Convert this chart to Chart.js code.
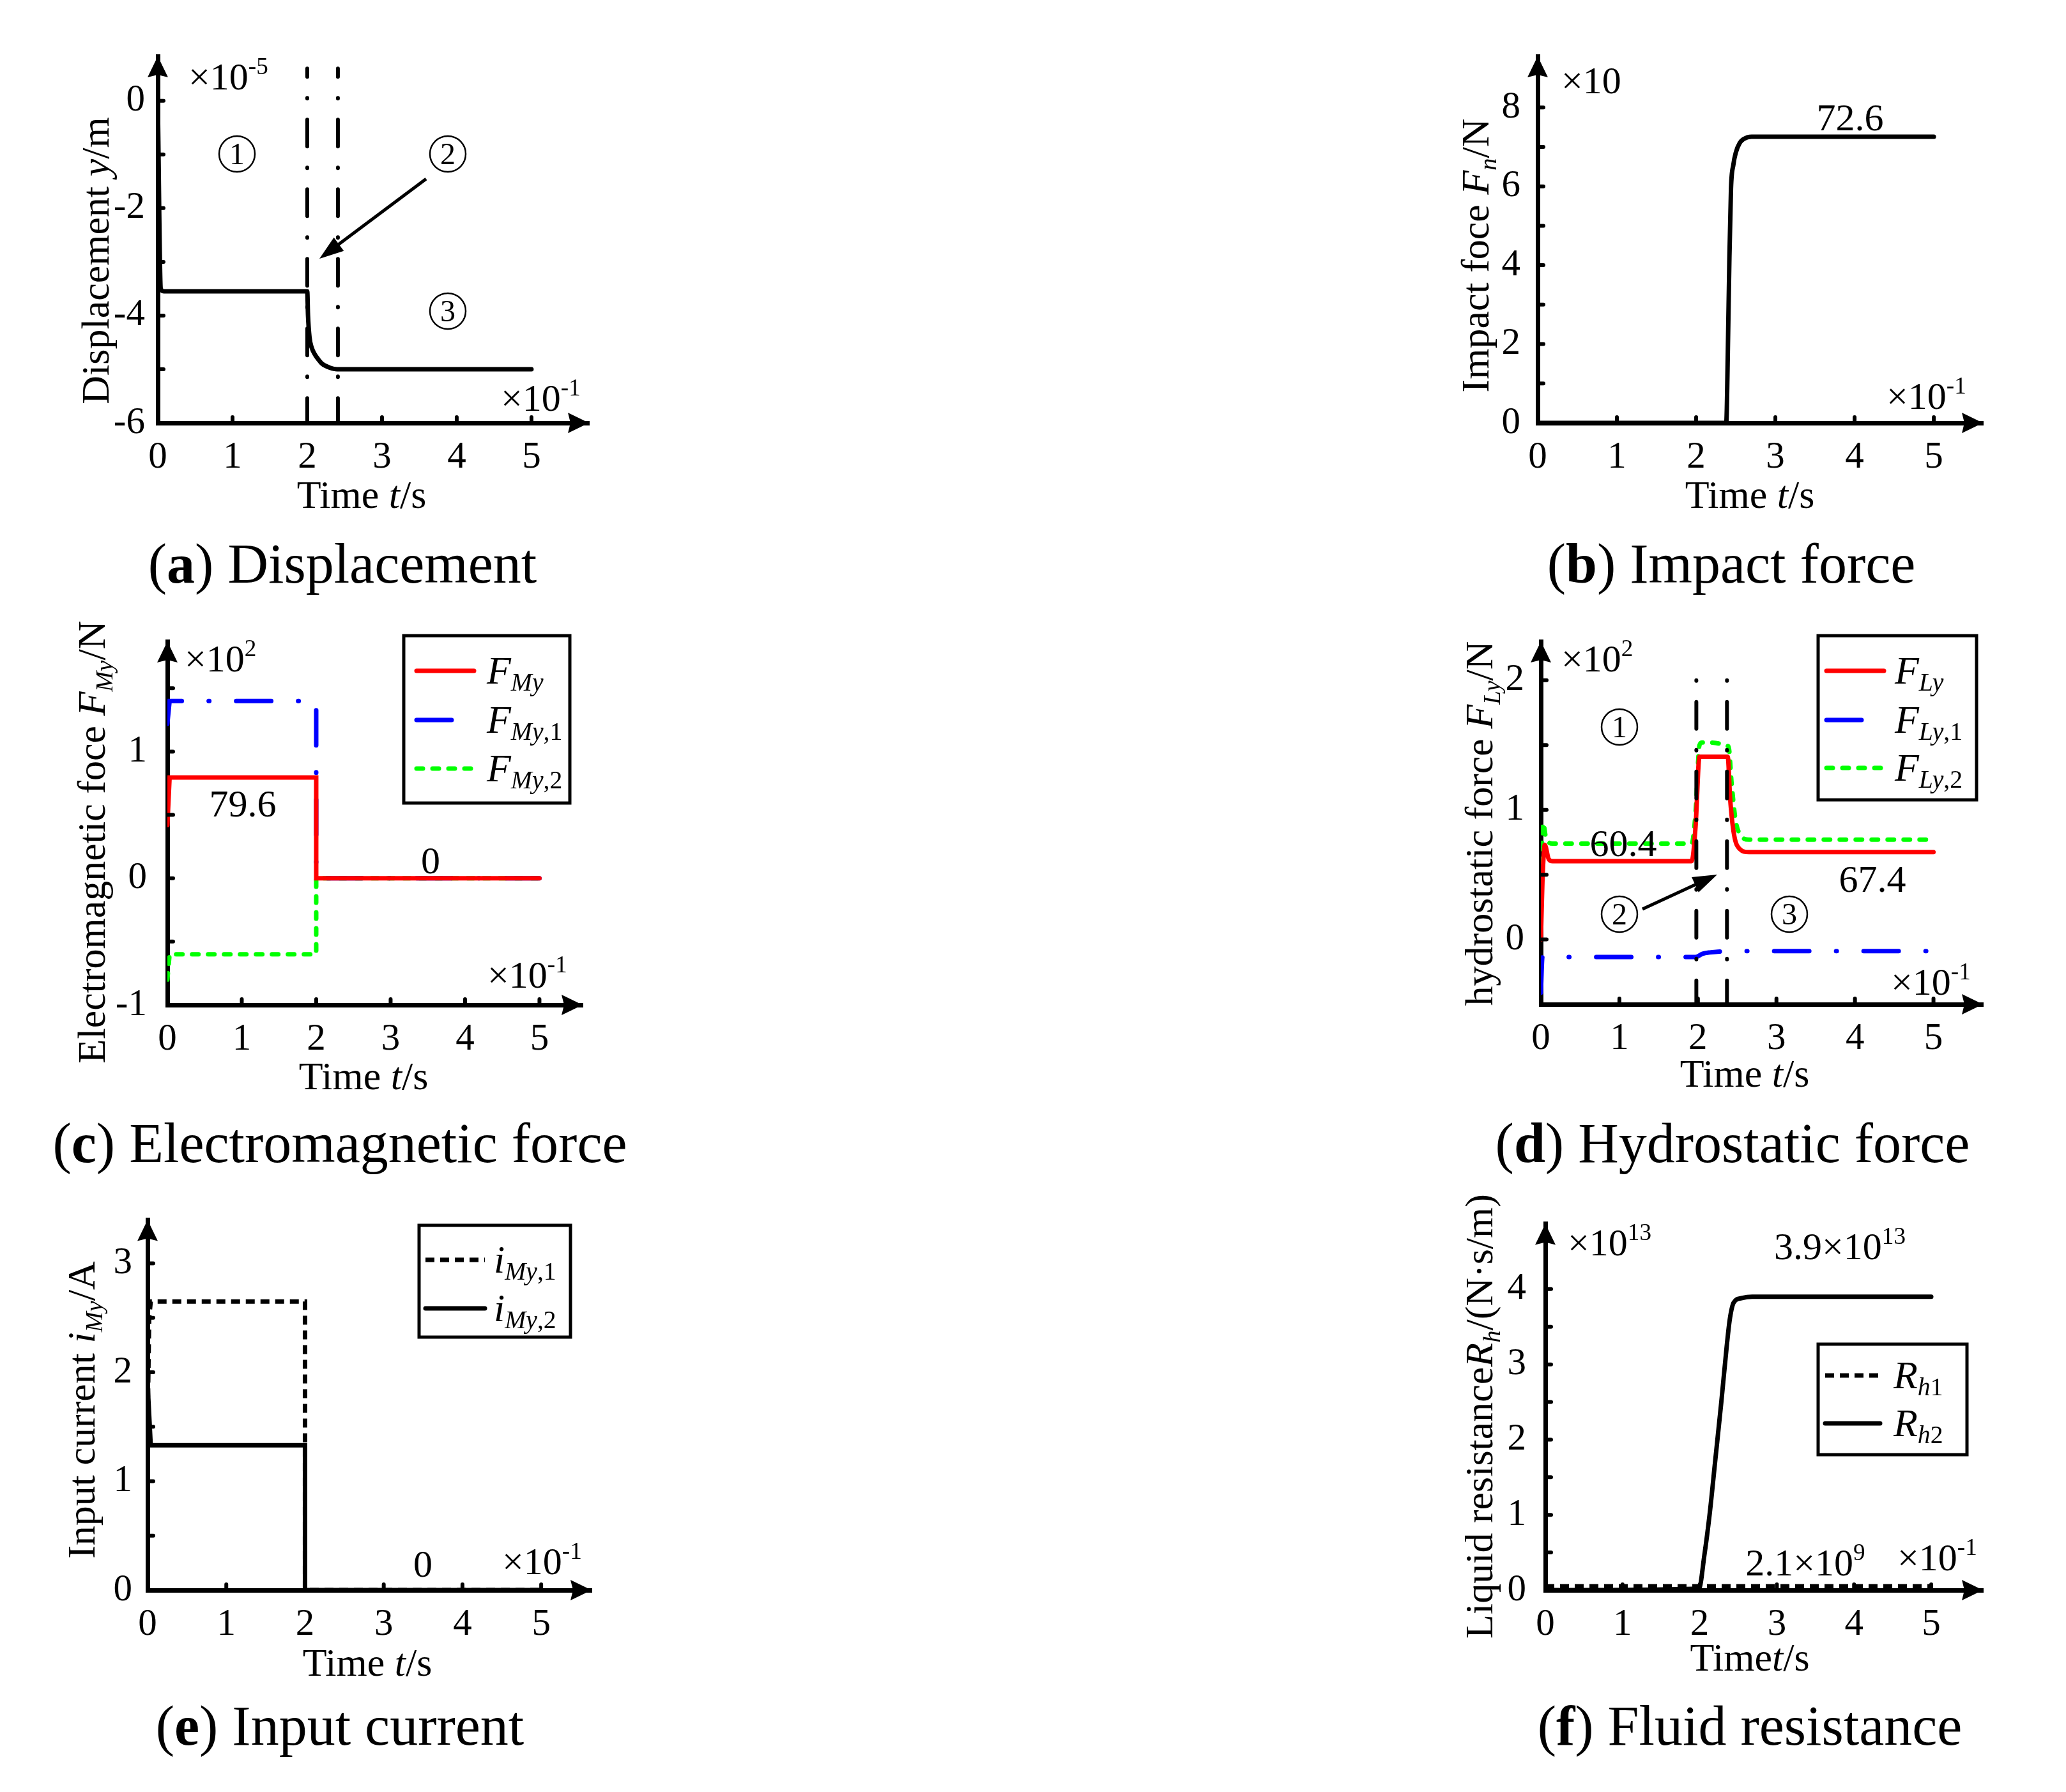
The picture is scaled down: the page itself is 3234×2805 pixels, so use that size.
<!DOCTYPE html>
<html>
<head>
<meta charset="utf-8">
<script src="https://cdn.jsdelivr.net/npm/chart.js@4.4.1/dist/chart.umd.min.js"></script>
<style>
  html, body { margin: 0; padding: 0; background: #fff; }
  #page { position: relative; width: 3234px; height: 2805px; background: #fff; overflow: hidden; }
  #page canvas { position: absolute; }
</style>
</head>
<body>
<div id="page"></div>
<script>
// time axis is in units of 0.1 s (x10^-1)
const xTickVals = [0, 1, 2, 3, 4, 5];
const xTickText = ['0', '1', '2', '3', '4', '5'];

// (a) displacement, x10^-5 m
const timeDisp = [0, 0.04, 0.08, 1, 2.0, 2.01, 2.03, 2.06, 2.1, 2.15, 2.2, 2.3, 2.4, 3, 4, 5];
const valDisp = [0, -3.5, -3.55, -3.55, -3.55, -4.0, -4.4, -4.6, -4.72, -4.82, -4.9, -4.97, -5.0, -5.0, -5.0, -5.0];
const stageA = [2.0, 2.41];
const stageTopA = 0.6;
const yTicksA = [-6, -5, -4, -3, -2, -1, 0];
const yTextA = ['-6', '', '-4', '', '-2', '', '0'];

// (b) impact force, x10 N
const timeImpact = [0, 2.38, 2.4, 2.42, 2.44, 2.47, 2.5, 2.55, 2.6, 2.7, 3, 4, 5];
const valImpact = [0, 0, 1.8, 4.2, 5.95, 6.55, 6.85, 7.1, 7.2, 7.26, 7.26, 7.26, 7.26];
const yTicksB = [0, 1, 2, 3, 4, 5, 6, 7, 8];
const yTextB = ['0', '', '2', '', '4', '', '6', '', '8'];

// (c) electromagnetic force, x10^2 N
const timeEm = [0, 0.03, 2.0, 2.0, 5];
const valFMy = [0.42, 0.796, 0.796, 0, 0];
const valFMy1 = [1.22, 1.4, 1.4, 0, 0];
const valFMy2 = [-0.8, -0.6, -0.6, 0, 0];
const yTicksC = [-1, -0.5, 0, 0.5, 1, 1.5];
const yTextC = ['-1', '', '0', '', '1', ''];

// (d) hydrostatic force, x10^2 N
const timeFLy = [0, 0.02, 0.05, 0.1, 0.15, 1.92, 1.97, 2.02, 2.38, 2.41, 2.46, 2.53, 2.65, 3, 4, 5];
const valFLy = [0, 0.45, 0.73, 0.62, 0.604, 0.604, 0.87, 1.41, 1.41, 1.09, 0.81, 0.7, 0.674, 0.674, 0.674, 0.674];
const timeFLy1 = [0, 0.02, 1.97, 2.06, 2.15, 2.25, 2.4, 3, 4, 5];
const valFLy1 = [-0.41, -0.135, -0.135, -0.11, -0.1, -0.095, -0.09, -0.09, -0.09, -0.09];
const timeFLy2 = [0, 0.03, 0.06, 0.1, 0.15, 1.92, 1.97, 2.02, 2.05, 2.39, 2.43, 2.48, 2.55, 2.65, 3, 4, 5];
const valFLy2 = [0.45, 0.9, 0.8, 0.75, 0.74, 0.74, 0.98, 1.5, 1.52, 1.49, 1.2, 0.92, 0.8, 0.77, 0.77, 0.77, 0.77];
const stageD = [1.98, 2.37];
const stageTopD = 2.0;
const yTicksD = [-0.5, 0, 0.5, 1, 1.5, 2];
const yTextD = ['', '0', '', '1', '', '2'];

// (e) input current, A
const timeI1 = [0, 0.02, 0.04, 2.0, 2.0, 5];
const valI1 = [1.5, 2.5, 2.65, 2.65, 0, 0];
const timeI2 = [0, 0.04, 2.0, 2.0, 5];
const valI2 = [1.9, 1.33, 1.33, 0, 0];
const yTicksE = [0, 0.5, 1, 1.5, 2, 2.5, 3];
const yTextE = ['0', '', '1', '', '2', '', '3'];

// (f) fluid resistance, x10^13 N.s/m
const timeRh1 = [0, 5];
const valRh1 = [0.05, 0.05];
const timeRh2 = [0, 1.99, 2.06, 2.13, 2.2, 2.28, 2.35, 2.39, 2.44, 2.54, 2.68, 3, 4, 5];
const valRh2 = [0, 0.02, 0.46, 1.02, 1.71, 2.5, 3.24, 3.6, 3.82, 3.88, 3.9, 3.9, 3.9, 3.9];
const yTicksF = [0, 0.5, 1, 1.5, 2, 2.5, 3, 3.5, 4];
const yTextF = ['0', '', '1', '', '2', '', '3', '', '4'];

const FONT = '"Liberation Serif", "Times New Roman", serif';

function pts(xs, ys) {
  return xs.map((x, i) => ({ x: x, y: ys[i] }));
}

// text made of pieces: [text, style]  style: i italic, b bold, _ sub, ^ sup
function drawRich(ctx, x, y, parts, size, align, rot, subRatio, subDrop) {
  const sr = subRatio || 0.62, sd = subDrop || 0.2;
  const segs = parts.map(p => {
    const s = p[1] || '';
    const small = s.includes('_') || s.includes('^');
    const font = (s.includes('i') ? 'italic ' : '') + (s.includes('b') ? 'bold ' : '') + (small ? size * sr : size) + 'px ' + FONT;
    ctx.font = font;
    return { t: p[0], font: font, w: ctx.measureText(p[0]).width, dy: s.includes('_') ? size * sd : (s.includes('^') ? -size * 0.4 : 0) };
  });
  const total = segs.reduce((a, s) => a + s.w, 0);
  ctx.save();
  ctx.translate(x, y);
  if (rot) ctx.rotate(rot);
  let cx = align === 'center' ? -total / 2 : (align === 'right' ? -total : 0);
  ctx.fillStyle = '#000';
  ctx.textAlign = 'left';
  ctx.textBaseline = 'alphabetic';
  segs.forEach(s => { ctx.font = s.font; ctx.fillText(s.t, cx, s.dy); cx += s.w; });
  ctx.restore();
}

function axisHead(ctx, x, y, ang) {
  ctx.save();
  ctx.translate(x, y);
  ctx.rotate(ang);
  ctx.fillStyle = '#000';
  ctx.beginPath();
  ctx.moveTo(0, 0);
  ctx.lineTo(-33, -16);
  ctx.lineTo(-29, 0);
  ctx.lineTo(-33, 16);
  ctx.closePath();
  ctx.fill();
  ctx.restore();
}

function pointer(ctx, x1, y1, x2, y2) {
  const ang = Math.atan2(y2 - y1, x2 - x1);
  ctx.save();
  ctx.strokeStyle = '#000';
  ctx.lineWidth = 5;
  ctx.setLineDash([]);
  ctx.beginPath();
  ctx.moveTo(x1, y1);
  ctx.lineTo(x2 - 30 * Math.cos(ang), y2 - 30 * Math.sin(ang));
  ctx.stroke();
  ctx.translate(x2, y2);
  ctx.rotate(ang);
  ctx.fillStyle = '#000';
  ctx.beginPath();
  ctx.moveTo(0, 0);
  ctx.lineTo(-38, -13);
  ctx.lineTo(-38, 13);
  ctx.closePath();
  ctx.fill();
  ctx.restore();
}

// circled stage number
function stageMark(ctx, txt, x, y) {
  ctx.save();
  ctx.strokeStyle = '#000';
  ctx.lineWidth = 2.5;
  ctx.setLineDash([]);
  ctx.beginPath();
  ctx.arc(x, y, 28, 0, Math.PI * 2);
  ctx.stroke();
  ctx.font = '48px ' + FONT;
  ctx.fillStyle = '#000';
  ctx.textAlign = 'center';
  ctx.textBaseline = 'alphabetic';
  ctx.fillText(txt, x, y + 16);
  ctx.restore();
}

function makePanel(p) {
  const canvas = document.createElement('canvas');
  canvas.width = p.cell.w;
  canvas.height = p.cell.h;
  canvas.style.left = p.cell.left + 'px';
  canvas.style.top = p.cell.top + 'px';
  canvas.style.width = p.cell.w + 'px';
  canvas.style.height = p.cell.h + 'px';
  document.getElementById('page').appendChild(canvas);

  const YW = 160, XH = 120;
  const pad = {
    left: p.box.L - p.cell.left - YW,
    right: p.cell.left + p.cell.w - p.box.R,
    top: p.box.T - p.cell.top,
    bottom: p.cell.top + p.cell.h - p.box.B - XH
  };

  const extras = {
    id: 'extras' + p.name,
    afterDraw(chart) {
      const ctx = chart.ctx;
      const xs = chart.scales.x, ys = chart.scales.y;
      const area = chart.chartArea;
      ctx.save();
      // small tick marks inside the axes
      ctx.strokeStyle = '#000';
      ctx.lineWidth = 6;
      ctx.lineCap = 'round';
      ctx.beginPath();
      ys.ticks.forEach(t => {
        if (t.value > ys.min) { const y = ys.getPixelForValue(t.value); ctx.moveTo(area.left, y); ctx.lineTo(area.left + 9, y); }
      });
      xs.ticks.forEach(t => {
        if (t.value > xs.min) { const x = xs.getPixelForValue(t.value); ctx.moveTo(x, area.bottom); ctx.lineTo(x, area.bottom - 9); }
      });
      ctx.stroke();
      ctx.lineCap = 'butt';
      axisHead(ctx, area.left, area.top, -Math.PI / 2);
      axisHead(ctx, area.right, area.bottom, 0);

      ctx.translate(-p.cell.left, -p.cell.top);
      (p.texts || []).forEach(t => drawRich(ctx, t.x, t.y, t.parts, t.size || 60, t.align || 'left', t.rot || 0));
      (p.circles || []).forEach(c => stageMark(ctx, c[0], c[1], c[2]));
      (p.arrows || []).forEach(a => pointer(ctx, a[0], a[1], a[2], a[3]));

      if (p.legend) {
        const lg = p.legend;
        ctx.setLineDash([]);
        ctx.lineWidth = 5;
        ctx.strokeStyle = '#000';
        ctx.strokeRect(lg.box[0], lg.box[1], lg.box[2], lg.box[3]);
        lg.rows.forEach(r => {
          const ds = chart.data.datasets[r.ds];
          ctx.save();
          ctx.strokeStyle = ds.borderColor;
          ctx.lineWidth = ds.borderWidth;
          ctx.lineCap = ds.borderCapStyle || 'butt';
          ctx.setLineDash(ds.borderDash || []);
          ctx.beginPath();
          ctx.moveTo(lg.s1, r.y);
          ctx.lineTo(lg.s2, r.y);
          ctx.stroke();
          ctx.restore();
          drawRich(ctx, lg.tx, r.y + 20, r.parts, 62, 'left', 0, 0.64, 0.18);
        });
      }
      ctx.restore();
    }
  };

  new Chart(canvas, {
    type: 'line',
    data: { datasets: p.datasets },
    options: {
      responsive: false,
      animation: false,
      devicePixelRatio: 1,
      events: [],
      layout: { padding: pad },
      plugins: { legend: { display: false }, tooltip: { enabled: false } },
      elements: { point: { radius: 0 }, line: { fill: false } },
      scales: {
        x: {
          type: 'linear', position: 'bottom', bounds: 'data',
          min: 0, max: p.xMax,
          grid: { display: false, drawTicks: false },
          border: { display: true, color: '#000', width: 7 },
          ticks: {
            color: '#000', padding: 19, maxRotation: 0, autoSkip: false,
            font: { family: 'Liberation Serif', size: 59 },
            callback: (v, i) => xTickText[i]
          },
          afterBuildTicks: s => { s.ticks = xTickVals.map(v => ({ value: v })); },
          afterFit: s => { s.height = XH; }
        },
        y: {
          type: 'linear', position: 'left', bounds: 'data',
          min: p.yMin, max: p.yMax,
          grid: { display: false, drawTicks: false },
          border: { display: true, color: '#000', width: 7 },
          ticks: {
            color: '#000', padding: p.yPad, autoSkip: false,
            font: { family: 'Liberation Serif', size: 59 },
            callback: (v, i) => p.yText[i]
          },
          afterBuildTicks: s => { s.ticks = p.yTicks.map(v => ({ value: v })); },
          afterFit: s => { s.width = YW; }
        }
      }
    },
    plugins: [extras]
  });
}

function line(data, color, width, dash, smooth, cap, dashOffset) {
  return {
    data: data,
    borderColor: color,
    borderWidth: width,
    borderDash: dash || [],
    borderDashOffset: dashOffset || 0,
    borderCapStyle: cap || 'round',
    borderJoinStyle: 'miter',
    pointRadius: 0,
    tension: 0,
    cubicInterpolationMode: smooth ? 'monotone' : 'default'
  };
}

const stageDash = [42, 33, 1, 33];
const blueDash = [55, 42, 1, 42];
const greenDash = [10, 15];
const blackDash = [14, 9];
const xTime = [['Time '], ['t', 'i'], ['/s']];

// (a)
makePanel({
  name: 'a',
  cell: { left: 0, top: 0, w: 1617, h: 935 },
  box: { L: 247, R: 922, T: 88, B: 662 },
  xMax: 5.77, yMin: -6, yMax: 0.83,
  yTicks: yTicksA, yText: yTextA, yPad: 20,
  datasets: [
    line(pts([stageA[0], stageA[0]], [stageTopA, -6]), '#000', 6, stageDash, false, 'round', 29),
    line(pts([stageA[1], stageA[1]], [stageTopA, -6]), '#000', 6, stageDash, false, 'round', 29),
    line(pts(timeDisp, valDisp), '#000', 7, null, true)
  ],
  texts: [
    { x: 295, y: 140, parts: [['×10'], ['-5', '^']] },
    { x: 784, y: 643, parts: [['×10'], ['-1', '^']] },
    { x: 170, y: 408, parts: [['Displacement '], ['y', 'i'], ['/m']], size: 62, align: 'center', rot: -Math.PI / 2 },
    { x: 566, y: 795, parts: xTime, size: 62, align: 'center' },
    { x: 536, y: 912, parts: [['('], ['a', 'b'], [') Displacement']], size: 88, align: 'center' }
  ],
  circles: [['1', 371, 241], ['2', 701, 241], ['3', 701, 487]],
  arrows: [[667, 280, 500, 405]]
});

// (b)
makePanel({
  name: 'b',
  cell: { left: 1617, top: 0, w: 1617, h: 935 },
  box: { L: 2407, R: 3104, T: 88, B: 662 },
  xMax: 5.62, yMin: 0, yMax: 9.3,
  yTicks: yTicksB, yText: yTextB, yPad: 27,
  datasets: [line(pts(timeImpact, valImpact), '#000', 7, null, true)],
  texts: [
    { x: 2444, y: 146, parts: [['×10']] },
    { x: 2896, y: 204, parts: [['72.6']], align: 'center' },
    { x: 2953, y: 640, parts: [['×10'], ['-1', '^']] },
    { x: 2330, y: 400, parts: [['Impact foce '], ['F', 'i'], ['n', 'i_'], ['/N']], size: 62, align: 'center', rot: -Math.PI / 2 },
    { x: 2739, y: 795, parts: xTime, size: 62, align: 'center' },
    { x: 2710, y: 912, parts: [['('], ['b', 'b'], [') Impact force']], size: 88, align: 'center' }
  ]
});

// (c)
makePanel({
  name: 'c',
  cell: { left: 0, top: 935, w: 1617, h: 915 },
  box: { L: 262, R: 912, T: 1004, B: 1573 },
  xMax: 5.58, yMin: -1, yMax: 1.87,
  yTicks: yTicksC, yText: yTextC, yPad: 32,
  datasets: [
    line(pts(timeEm, valFMy), '#ff0000', 7),
    line(pts(timeEm, valFMy1), '#0000ff', 7, blueDash),
    line(pts(timeEm, valFMy2), '#00ff00', 7, greenDash)
  ],
  texts: [
    { x: 289, y: 1051, parts: [['×10'], ['2', '^']] },
    { x: 380, y: 1278, parts: [['79.6']], align: 'center' },
    { x: 674, y: 1367, parts: [['0']], align: 'center' },
    { x: 763, y: 1546, parts: [['×10'], ['-1', '^']] },
    { x: 164, y: 1318, parts: [['Electromagnetic foce '], ['F', 'i'], ['My', 'i_'], ['/N']], size: 62, align: 'center', rot: -Math.PI / 2 },
    { x: 569, y: 1705, parts: xTime, size: 62, align: 'center' },
    { x: 532, y: 1819, parts: [['('], ['c', 'b'], [') Electromagnetic force']], size: 88, align: 'center' }
  ],
  legend: {
    box: [632, 995, 260, 262], s1: 652, s2: 742, tx: 762,
    rows: [
      { ds: 0, y: 1050, parts: [['F', 'i'], ['My', 'i_']] },
      { ds: 1, y: 1127, parts: [['F', 'i'], ['My', 'i_'], [',1', '_']] },
      { ds: 2, y: 1203, parts: [['F', 'i'], ['My', 'i_'], [',2', '_']] }
    ]
  }
});

// (d)
makePanel({
  name: 'd',
  cell: { left: 1617, top: 935, w: 1617, h: 915 },
  box: { L: 2412, R: 3104, T: 1004, B: 1572 },
  xMax: 5.63, yMin: -0.5, yMax: 2.3,
  yTicks: yTicksD, yText: yTextD, yPad: 26,
  datasets: [
    line(pts([stageD[0], stageD[0]], [stageTopD, -0.5]), '#000', 6, stageDash, false, 'round', 75),
    line(pts([stageD[1], stageD[1]], [stageTopD, -0.5]), '#000', 6, stageDash, false, 'round', 75),
    line(pts(timeFLy, valFLy), '#ff0000', 7, null, true),
    line(pts(timeFLy1, valFLy1), '#0000ff', 7, blueDash, true),
    line(pts(timeFLy2, valFLy2), '#00ff00', 7, greenDash, true)
  ],
  texts: [
    { x: 2444, y: 1051, parts: [['×10'], ['2', '^']] },
    { x: 2541, y: 1340, parts: [['60.4']], align: 'center' },
    { x: 2931, y: 1396, parts: [['67.4']], align: 'center' },
    { x: 2960, y: 1557, parts: [['×10'], ['-1', '^']] },
    { x: 2336, y: 1289, parts: [['hydrostatic force '], ['F', 'i'], ['Ly', 'i_'], ['/N']], size: 62, align: 'center', rot: -Math.PI / 2 },
    { x: 2731, y: 1701, parts: xTime, size: 62, align: 'center' },
    { x: 2712, y: 1819, parts: [['('], ['d', 'b'], [') Hydrostatic force']], size: 88, align: 'center' }
  ],
  circles: [['1', 2535, 1138], ['2', 2535, 1431], ['3', 2801, 1431]],
  arrows: [[2571, 1423, 2688, 1369]],
  legend: {
    box: [2846, 995, 248, 257], s1: 2859, s2: 2949, tx: 2966,
    rows: [
      { ds: 2, y: 1050, parts: [['F', 'i'], ['Ly', 'i_']] },
      { ds: 3, y: 1127, parts: [['F', 'i'], ['Ly', 'i_'], [',1', '_']] },
      { ds: 4, y: 1202, parts: [['F', 'i'], ['Ly', 'i_'], [',2', '_']] }
    ]
  }
});

// (e)
makePanel({
  name: 'e',
  cell: { left: 0, top: 1850, w: 1617, h: 955 },
  box: { L: 231, R: 926, T: 1908, B: 2489 },
  xMax: 5.64, yMin: 0, yMax: 3.4,
  yTicks: yTicksE, yText: yTextE, yPad: 24,
  datasets: [
    line(pts(timeI2, valI2), '#000', 7),
    line(pts(timeI1, valI1), '#000', 7, blackDash, false, 'butt')
  ],
  texts: [
    { x: 662, y: 2468, parts: [['0']], align: 'center' },
    { x: 786, y: 2464, parts: [['×10'], ['-1', '^']] },
    { x: 148, y: 2207, parts: [['Input current '], ['i', 'i'], ['My', 'i_'], ['/A']], size: 62, align: 'center', rot: -Math.PI / 2 },
    { x: 575, y: 2623, parts: xTime, size: 62, align: 'center' },
    { x: 532, y: 2731, parts: [['('], ['e', 'b'], [') Input current']], size: 88, align: 'center' }
  ],
  legend: {
    box: [656, 1918, 237, 175], s1: 666, s2: 759, tx: 773,
    rows: [
      { ds: 1, y: 1972, parts: [['i', 'i'], ['My', 'i_'], [',1', '_']] },
      { ds: 0, y: 2048, parts: [['i', 'i'], ['My', 'i_'], [',2', '_']] }
    ]
  }
});

// (f)
makePanel({
  name: 'f',
  cell: { left: 1617, top: 1850, w: 1617, h: 955 },
  box: { L: 2419, R: 3104, T: 1867, B: 2489 },
  xMax: 5.67, yMin: 0, yMax: 4.87,
  yTicks: yTicksF, yText: yTextF, yPad: 30,
  datasets: [
    line(pts(timeRh2, valRh2), '#000', 7, null, true),
    line(pts(timeRh1, valRh1), '#000', 7, blackDash, false, 'butt')
  ],
  texts: [
    { x: 2454, y: 1965, parts: [['×10'], ['13', '^']] },
    { x: 2880, y: 1971, parts: [['3.9×10'], ['13', '^']], align: 'center' },
    { x: 2826, y: 2466, parts: [['2.1×10'], ['9', '^']], align: 'center' },
    { x: 2970, y: 2458, parts: [['×10'], ['-1', '^']] },
    { x: 2336, y: 2217, parts: [['Liquid resistance'], ['R', 'i'], ['h', 'i_'], ['/(N·s/m)']], size: 62, align: 'center', rot: -Math.PI / 2 },
    { x: 2739, y: 2615, parts: [['Time'], ['t', 'i'], ['/s']], size: 62, align: 'center' },
    { x: 2739, y: 2731, parts: [['('], ['f', 'b'], [') Fluid resistance']], size: 88, align: 'center' }
  ],
  legend: {
    box: [2846, 2104, 233, 173], s1: 2857, s2: 2943, tx: 2964,
    rows: [
      { ds: 1, y: 2153, parts: [['R', 'i'], ['h', 'i_'], ['1', '_']] },
      { ds: 0, y: 2228, parts: [['R', 'i'], ['h', 'i_'], ['2', '_']] }
    ]
  }
});
</script>
</body>
</html>
